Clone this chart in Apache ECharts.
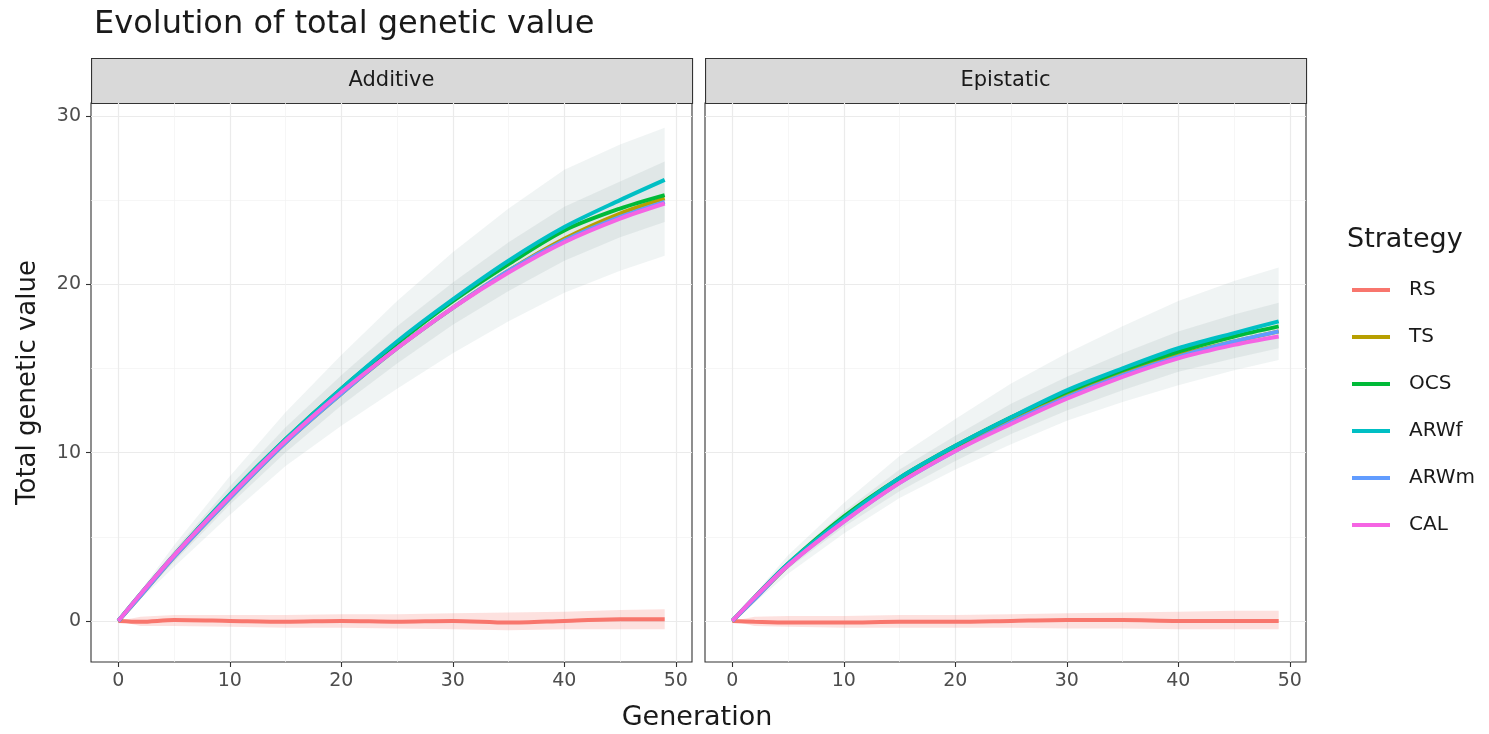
<!DOCTYPE html>
<html>
<head>
<meta charset="utf-8">
<script src="https://cdn.jsdelivr.net/npm/echarts@6/dist/echarts.min.js"></script>
<style>
  html, body { margin: 0; padding: 0; background: #fff; }
  #chart { width: 1489px; height: 734px; }
</style>
</head>
<body>
<div id="chart"></div>
<script>
// generations
const generations = [0, 2, 5, 10, 15, 20, 25, 30, 35, 40, 45, 49]
const strategies = ['RS', 'TS', 'OCS', 'ARWf', 'ARWm', 'CAL']
const xMajorTicks = [0, 10, 20, 30, 40, 50]
const xMinorTicks = [5, 15, 25, 35, 45]
const yMajorTicks = [0, 10, 20, 30]
const yMinorTicks = [5, 15, 25]

// Additive: mean per strategy
const addRS = [0, -0.05, 0.05, 0.0, -0.05, 0.0, -0.05, 0.0, -0.1, 0.0, 0.1, 0.1]
const addTS = [0, 1.5, 3.8, 7.3, 10.6, 13.5, 16.2, 18.6, 20.8, 22.7, 24.2, 25.1]
const addOCS = [0, 1.6, 3.9, 7.5, 10.8, 13.8, 16.5, 19.0, 21.2, 23.2, 24.5, 25.3]
const addARWf = [0, 1.6, 3.9, 7.5, 10.8, 13.8, 16.6, 19.1, 21.4, 23.4, 25.0, 26.2]
const addARWm = [0, 1.5, 3.8, 7.3, 10.6, 13.5, 16.2, 18.6, 20.8, 22.6, 24.0, 24.9]
const addCAL = [0, 1.6, 3.9, 7.4, 10.7, 13.6, 16.2, 18.6, 20.7, 22.5, 23.9, 24.8]
// Additive: spread of the replicate runs
const addOuterLow = [0, 1.3, 3.2, 6.3, 9.2, 11.6, 13.8, 15.9, 17.8, 19.5, 20.8, 21.7]
const addOuterHigh = [0, 1.8, 4.5, 8.6, 12.4, 15.8, 19.0, 21.9, 24.5, 26.8, 28.3, 29.3]
const addInnerLow = [0, 1.4, 3.5, 6.9, 10.0, 12.8, 15.3, 17.6, 19.6, 21.4, 22.8, 23.7]
const addInnerHigh = [0, 1.7, 4.2, 8.0, 11.5, 14.6, 17.5, 20.1, 22.5, 24.6, 26.1, 27.3]
const addRSLow = [0, -0.3, -0.3, -0.35, -0.4, -0.4, -0.45, -0.5, -0.55, -0.5, -0.5, -0.5]
const addRSHigh = [0, 0.25, 0.35, 0.35, 0.35, 0.4, 0.4, 0.45, 0.5, 0.55, 0.65, 0.7]

// Epistatic: mean per strategy
const epiRS = [0, -0.05, -0.1, -0.1, -0.05, -0.05, 0.0, 0.05, 0.05, 0.0, 0.0, 0.0]
const epiTS = [0, 1.3, 3.3, 6.0, 8.3, 10.2, 11.9, 13.4, 14.7, 15.8, 16.6, 17.2]
const epiOCS = [0, 1.4, 3.4, 6.2, 8.5, 10.4, 12.1, 13.6, 14.9, 16.0, 16.9, 17.5]
const epiARWf = [0, 1.4, 3.4, 6.1, 8.5, 10.4, 12.1, 13.7, 15.0, 16.2, 17.1, 17.8]
const epiARWm = [0, 1.3, 3.3, 5.9, 8.2, 10.1, 11.8, 13.3, 14.6, 15.7, 16.6, 17.2]
const epiCAL = [0, 1.4, 3.3, 5.9, 8.2, 10.1, 11.7, 13.2, 14.5, 15.6, 16.4, 16.9]
// Epistatic: spread of the replicate runs
const epiOuterLow = [0, 1.1, 2.8, 5.2, 7.3, 9.0, 10.5, 11.9, 13.0, 14.0, 14.9, 15.5]
const epiOuterHigh = [0, 1.6, 3.9, 7.0, 9.8, 12.0, 14.1, 15.9, 17.5, 19.0, 20.2, 21.0]
const epiInnerLow = [0, 1.2, 3.1, 5.6, 7.7, 9.5, 11.1, 12.5, 13.7, 14.8, 15.6, 16.2]
const epiInnerHigh = [0, 1.5, 3.6, 6.5, 9.0, 11.0, 12.9, 14.5, 15.9, 17.2, 18.2, 18.9]
const epiRSLow = [0, -0.3, -0.35, -0.4, -0.4, -0.4, -0.4, -0.45, -0.45, -0.5, -0.5, -0.5]
const epiRSHigh = [0, 0.25, 0.3, 0.3, 0.35, 0.35, 0.4, 0.45, 0.5, 0.55, 0.6, 0.6]

const colors = ['#F8766D', '#B79F00', '#00BA38', '#00BFC4', '#619CFF', '#F564E3']
const font = 'DejaVu Sans'

const pairs = ys => generations.map((g, i) => [g, ys[i]])

// faint envelope of the replicate runs, drawn through the axes' scales
function band (lo, hi, color, xi, yi) {
  return {
    type: 'custom',
    xAxisIndex: xi,
    yAxisIndex: yi,
    silent: true,
    clip: true,
    z: 1,
    data: [[0, 0]],
    renderItem: function (params, api) {
      const top = generations.map((g, i) => api.coord([g, hi[i]]))
      const bottom = generations.map((g, i) => api.coord([g, lo[i]])).reverse()
      return {
        type: 'polygon',
        shape: { points: top.concat(bottom) },
        style: { fill: color }
      }
    }
  }
}

function means (list, xi, yi) {
  return list.map((ys, k) => ({
    name: strategies[k],
    type: 'line',
    xAxisIndex: xi,
    yAxisIndex: yi,
    smooth: 0.3,
    symbol: 'none',
    color: colors[k],
    lineStyle: { width: 4, color: colors[k] },
    data: pairs(ys),
    z: 3 + k
  }))
}

const panels = [
  { left: 91, name: 'Additive', lists: [addRS, addTS, addOCS, addARWf, addARWm, addCAL],
    outer: [addOuterLow, addOuterHigh], inner: [addInnerLow, addInnerHigh], rs: [addRSLow, addRSHigh] },
  { left: 705, name: 'Epistatic', lists: [epiRS, epiTS, epiOCS, epiARWf, epiARWm, epiCAL],
    outer: [epiOuterLow, epiOuterHigh], inner: [epiInnerLow, epiInnerHigh], rs: [epiRSLow, epiRSHigh] }
]
const panelTop = 103
const panelW = 601
const panelH = 559

const grids = []
const xAxes = []
const yAxes = []
const series = []
const graphics = []

panels.forEach((p, i) => {
  grids.push({ left: p.left, top: panelTop, width: panelW, height: panelH, show: true,
    borderColor: '#333', borderWidth: 1.1, backgroundColor: '#fff' })
  const xMain = 2 * i
  const yMain = 2 * i
  xAxes.push({
    type: 'value', gridIndex: i, min: -2.45, max: 51.45, position: 'bottom',
    axisLine: { show: false, onZero: false },
    axisTick: { show: true, length: 5, customValues: xMajorTicks, lineStyle: { color: '#333', width: 1.1 } },
    axisLabel: { customValues: xMajorTicks, color: '#4d4d4d', fontSize: 19, fontFamily: font, margin: 10 },
    splitLine: { show: true, lineStyle: { color: '#ebebeb', width: 1.2 } }
  })
  xAxes.push({
    type: 'value', gridIndex: i, min: -2.45, max: 51.45, position: 'top',
    axisLine: { show: false, onZero: false },
    axisTick: { show: false, customValues: xMinorTicks },
    axisLabel: { show: false, customValues: xMinorTicks },
    splitLine: { show: true, lineStyle: { color: '#f2f2f2', width: 0.7 } }
  })
  yAxes.push({
    type: 'value', gridIndex: i, min: -2.44, max: 30.77, position: 'left',
    axisLine: { show: false, onZero: false },
    axisTick: { show: i === 0, length: 5, customValues: yMajorTicks, lineStyle: { color: '#333', width: 1.1 } },
    axisLabel: { show: i === 0, customValues: yMajorTicks, color: '#4d4d4d', fontSize: 19, fontFamily: font, margin: 10 },
    splitLine: { show: true, lineStyle: { color: '#ebebeb', width: 1.2 } },
    name: i === 0 ? 'Total genetic value' : '',
    nameLocation: 'middle',
    nameGap: 50,
    nameTextStyle: { fontSize: 26, color: '#1a1a1a', fontFamily: font }
  })
  yAxes.push({
    type: 'value', gridIndex: i, min: -2.44, max: 30.77, position: 'right',
    axisLine: { show: false, onZero: false },
    axisTick: { show: false, customValues: yMinorTicks },
    axisLabel: { show: false, customValues: yMinorTicks },
    splitLine: { show: true, lineStyle: { color: '#f2f2f2', width: 0.7 } }
  })

  series.push(band(p.outer[0], p.outer[1], 'rgba(150,175,180,0.14)', xMain, yMain))
  series.push(band(p.inner[0], p.inner[1], 'rgba(140,165,170,0.16)', xMain, yMain))
  series.push(band(p.rs[0], p.rs[1], 'rgba(248,118,109,0.22)', xMain, yMain))
  series.push(...means(p.lists, xMain, yMain))

  // facet strip
  graphics.push({
    type: 'rect', left: p.left, top: 58,
    shape: { width: panelW, height: 45 },
    style: { fill: '#d9d9d9', stroke: '#333', lineWidth: 1.1 }
  })
  graphics.push({
    type: 'text', x: p.left + panelW / 2, y: 81,
    style: { text: p.name, fill: '#1a1a1a', fontSize: 21, fontFamily: font, align: 'center', verticalAlign: 'middle' }
  })
})

graphics.push({
  type: 'text', x: 697, y: 718,
  style: { text: 'Generation', fill: '#1a1a1a', fontSize: 27, fontFamily: font, align: 'center', verticalAlign: 'middle' }
})
graphics.push({
  type: 'text', x: 1347, y: 240,
  style: { text: 'Strategy', fill: '#1a1a1a', fontSize: 27, fontFamily: font, align: 'left', verticalAlign: 'middle' }
})

const chart = echarts.init(document.getElementById('chart'), null, { renderer: 'canvas' })
chart.setOption({
  animation: false,
  backgroundColor: '#fff',
  title: {
    text: 'Evolution of total genetic value',
    left: 89, top: 4,
    textStyle: { fontSize: 32, fontWeight: 'normal', color: '#1a1a1a', fontFamily: font }
  },
  legend: {
    data: strategies,
    orient: 'vertical',
    left: 1352, top: 280,
    padding: 0,
    icon: 'rect',
    itemWidth: 38, itemHeight: 4, itemGap: 27,
    textStyle: { fontSize: 20, lineHeight: 20, color: '#1a1a1a', fontFamily: font, padding: [0, 0, 0, 14] }
  },
  grid: grids,
  xAxis: xAxes,
  yAxis: yAxes,
  series: series,
  graphic: graphics
})
</script>
</body>
</html>
